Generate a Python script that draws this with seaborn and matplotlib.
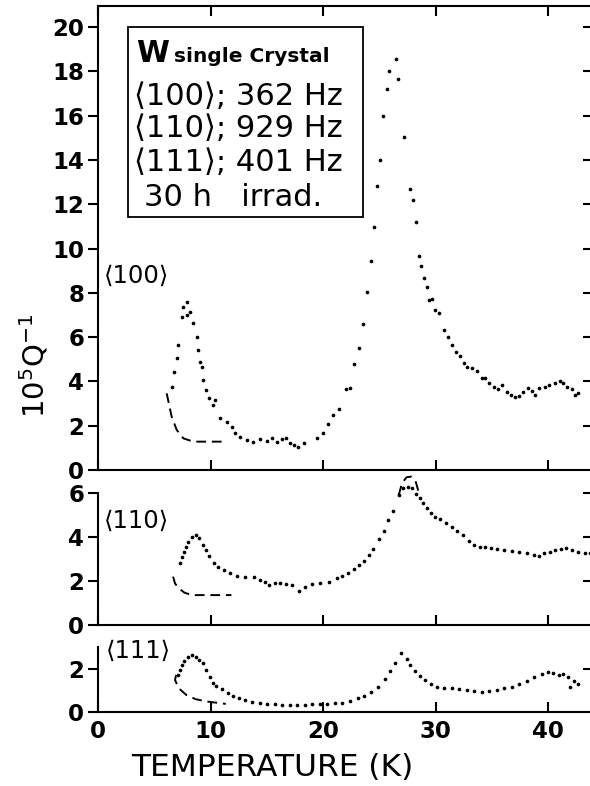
import numpy as np
import pandas as pd
import matplotlib
matplotlib.use("Agg")
import matplotlib.pyplot as plt
import seaborn as sns
from matplotlib.patches import Rectangle

# ---------------- data ----------------
t100 = [6.54, 6.75, 6.99, 7.13, 7.43, 7.52, 7.87, 7.87, 8.17, 8.46, 8.76, 8.91, 9.06, 9.2, 9.35,
        9.59, 9.89, 10.24, 10.39, 10.83, 11.43, 11.87, 12.17, 12.61, 13.2, 13.79, 14.39, 14.98,
        15.43, 15.87, 16.31, 16.7, 17.05, 17.41, 17.79, 18.29, 19.42, 19.95, 20.45, 20.9, 21.43,
        22.02, 22.38, 22.74, 23.15, 23.5, 23.86, 24.22, 24.51, 24.81, 25.04, 25.34, 25.64, 25.87,
        26.44, 26.67, 27.18, 27.71, 27.95, 28.24, 28.48, 28.69, 28.95, 29.19, 29.4, 29.69, 29.96,
        30.31, 30.73, 31.08, 31.44, 31.79, 32.15, 32.5, 32.8, 33.19, 33.63, 34.07, 34.37, 34.75,
        35.17, 35.55, 35.85, 36.3, 36.68, 37.03, 37.42, 37.77, 38.22, 38.52, 38.81, 39.19, 39.7,
        40.08, 40.59, 41.03, 41.33, 41.68, 42.07, 42.36, 42.66]
q100 = [3.76, 4.44, 5.04, 5.64, 6.92, 7.37, 7.6, 7.0, 7.15, 6.62, 6.02, 5.42, 4.89, 4.66, 4.06,
        3.61, 3.24, 2.93, 3.16, 2.33, 2.18, 1.96, 1.66, 1.5, 1.35, 1.28, 1.39, 1.32,
        1.43, 1.28, 1.39, 1.43, 1.2, 1.13, 1.05, 1.23, 1.43, 1.69, 2.08, 2.48, 2.74,
        3.64, 3.72, 4.77, 5.52, 6.58, 8.02, 9.44, 10.98, 12.82, 13.98, 16.0, 17.19, 18.01,
        18.54, 17.64, 15.02, 12.67, 12.19, 11.18, 9.66, 9.22, 8.68, 8.28, 7.67, 7.72, 7.22,
        7.07, 6.32, 6.02, 5.64, 5.34, 5.15, 4.84, 4.66, 4.62, 4.47, 4.14, 4.17, 3.91,
        3.76, 3.64, 3.84, 3.54, 3.39, 3.28, 3.34, 3.54, 3.69, 3.58, 3.39, 3.69, 3.76,
        3.84, 3.94, 4.03, 3.91, 3.76, 3.64, 3.39, 3.46]
t100_dash = [6.1, 6.54, 6.99, 7.58, 8.46, 10.98]
q100_dash = [3.46, 2.41, 1.81, 1.43, 1.28, 1.28]

t110 = [7.28, 7.44, 7.61, 7.84, 8.01, 8.35, 8.68, 9.01, 9.35, 9.62, 9.88, 10.28, 10.68, 11.19,
        11.69, 12.36, 13.02, 13.86, 14.36, 14.86, 15.2, 15.7, 16.2, 16.7, 17.2, 17.87, 18.37,
        19.04, 19.71, 20.54, 21.21, 21.71, 22.22, 22.72, 23.22, 23.65, 24.05, 24.45, 24.99,
        25.39, 25.79, 26.23, 26.73, 27.06, 27.56, 27.9, 28.23, 28.57, 28.9, 29.23, 29.57, 29.9,
        30.4, 30.9, 31.41, 31.91, 32.41, 32.91, 33.41, 33.91, 34.41, 34.92, 35.42, 36.09, 36.75,
        37.42, 38.09, 38.76, 39.16, 39.6, 40.1, 40.6, 41.1, 41.6, 42.1, 42.6, 43.27, 43.7]
q110 = [2.80, 3.11, 3.33, 3.56, 3.79, 4.02, 4.09, 3.94, 3.64, 3.41, 3.14, 2.80, 2.65, 2.50,
        2.35, 2.23, 2.2, 2.17, 2.05, 1.97, 1.82, 1.89, 1.92, 1.86, 1.82, 1.56, 1.74,
        1.86, 1.92, 1.97, 2.12, 2.23, 2.38, 2.53, 2.73, 2.92, 3.18, 3.44, 3.89,
        4.29, 4.77, 5.2, 5.91, 6.21, 6.29, 6.21, 5.98, 5.76, 5.53, 5.3, 5.08, 4.9,
        4.8, 4.62, 4.44, 4.29, 4.09, 3.83, 3.64, 3.56, 3.53, 3.48, 3.44, 3.41, 3.38,
        3.33, 3.26, 3.18, 3.14, 3.26, 3.33, 3.41, 3.44, 3.48, 3.41, 3.33, 3.29, 3.26]
t110_dash = [6.67, 6.84, 7.18, 7.68, 8.35, 11.85]
q110_dash = [2.2, 1.89, 1.67, 1.47, 1.36, 1.36]
t110_cap = [26.7, 27.0, 27.4, 27.8, 28.2, 28.5]
q110_cap = [5.9, 6.45, 6.72, 6.75, 6.55, 6.0]

t111 = [7.11, 7.28, 7.44, 7.68, 8.01, 8.35, 8.68, 9.01, 9.35, 9.62, 9.95, 10.18, 10.52, 11.02,
        11.52, 12.02, 12.52, 13.02, 13.69, 14.36, 15.03, 15.7, 16.37, 17.04, 17.7, 18.37, 19.04,
        19.71, 20.38, 21.05, 21.71, 22.38, 23.05, 23.65, 24.22, 24.89, 25.46, 25.96, 26.39, 26.9,
        27.4, 27.73, 28.13, 28.57, 29.07, 29.57, 30.07, 30.74, 31.41, 32.08, 32.74, 33.41, 34.08,
        34.75, 35.42, 36.09, 36.75, 37.42, 38.09, 38.76, 39.43, 39.93, 40.43, 40.93, 41.27, 41.77,
        42.27, 42.6, 41.94]
q111 = [1.74, 1.97, 2.21, 2.41, 2.6, 2.68, 2.6, 2.44, 2.29, 1.97, 1.66, 1.38, 1.22, 1.07,
        0.91, 0.75, 0.64, 0.56, 0.49, 0.44, 0.38, 0.38, 0.33, 0.33, 0.33, 0.33, 0.36,
        0.36, 0.38, 0.41, 0.44, 0.53, 0.64, 0.75, 0.96, 1.19, 1.53, 1.9, 2.29, 2.79,
        2.47, 2.21, 1.94, 1.69, 1.5, 1.32, 1.19, 1.14, 1.11, 1.07, 1.03, 1.0, 0.96,
        0.99, 1.03, 1.11, 1.19, 1.32, 1.46, 1.63, 1.79, 1.86, 1.85, 1.74, 1.79, 1.66,
        1.47, 1.32, 1.16]
t111_dash = [6.94, 6.84, 7.18, 7.84, 8.68, 9.68, 11.35]
q111_dash = [1.74, 1.5, 1.11, 0.8, 0.6, 0.49, 0.38]

x_ticks = [0, 10, 20, 30, 40]
y_ticks_100 = list(range(0, 21, 2))
y_ticks_110 = [0, 2, 4, 6]
y_ticks_111 = [0, 2]
panel_labels = ["\u27e8100\u27e9", "\u27e8110\u27e9", "\u27e8111\u27e9"]
inset_lines = ["\u27e8100\u27e9; 362 Hz", "\u27e8110\u27e9; 929 Hz", "\u27e8111\u27e9; 401 Hz", "30 h   irrad."]

# ---------------- figure ----------------
sns.set_style("ticks")
plt.rcParams['font.family'] = ['DejaVu Sans']
for k in ["text.color", "axes.labelcolor", "xtick.color", "ytick.color", "axes.edgecolor"]:
    plt.rcParams[k] = "black"

W, H = 590, 786
fig = plt.figure(figsize=(W / 100, H / 100), dpi=100)

def box(x0, y0, x1, y1):
    return [x0 / W, 1 - y1 / H, (x1 - x0) / W, (y1 - y0) / H]

ax1 = fig.add_axes(box(98, 6, 593, 470))
ax2 = fig.add_axes(box(98, 470, 593, 625))
ax3 = fig.add_axes(box(98, 625, 593, 712))

XMAX = 43.96
dot = dict(color="black", s=7, linewidth=0, legend=False)
dash = dict(color="black", lw=1.4, sort=False, estimator=None, linestyle=(0, (5, 3)))

sns.scatterplot(x=t100, y=q100, ax=ax1, **dot)
sns.lineplot(x=t100_dash, y=q100_dash, ax=ax1, **dash)
sns.scatterplot(x=t110, y=q110, ax=ax2, **dot)
sns.lineplot(x=t110_dash, y=q110_dash, ax=ax2, **dash)
sns.lineplot(x=t110_cap, y=q110_cap, ax=ax2, **dash)
sns.scatterplot(x=t111, y=q111, ax=ax3, **dot)
sns.lineplot(x=t111_dash, y=q111_dash, ax=ax3, **dash)

ylims = [(0, 20.95), (0, 7.05), (0, 4.08)]
yticks = [y_ticks_100, y_ticks_110, y_ticks_111]
for i, (ax, yl, yt) in enumerate(zip([ax1, ax2, ax3], ylims, yticks)):
    ax.set_xlim(0, XMAX)
    ax.set_ylim(*yl)
    ax.set_xticks(x_ticks)
    ax.set_yticks(yt)
    ax.set_xlabel("")
    ax.set_ylabel("")
    for s in ax.spines.values():
        s.set_linewidth(1.5)
        s.set_color("black")
    ax.tick_params(axis="y", direction="out", length=7, width=1.5, labelsize=16.5, pad=3,
                   left=True, right=False)
    ax.tick_params(axis="x", direction="in", length=7, width=1.5, labelsize=16.5, pad=6,
                   bottom=True, top=(i == 0), labelbottom=(i == 2))
    for lab in ax.get_xticklabels() + ax.get_yticklabels():
        lab.set_fontweight("bold")
    sec = ax.secondary_yaxis("right")
    sec.set_yticks([t for t in yt if t > 0])
    sec.tick_params(direction="in", length=7, width=1.5, labelright=False)
    sec.spines["right"].set_linewidth(1.5)
    ax.patch.set_alpha(0)

ax2.spines["top"].set_visible(False)
ax3.spines["top"].set_visible(False)
ax2.spines["left"].set_bounds(0, 6)
ax3.spines["left"].set_bounds(0, 3.05)

ax3.set_xlabel("TEMPERATURE (K)", fontsize=22.5)
ax3.xaxis.set_label_coords((272 - 98) / 495, (712 - 768) / 87)
ax3.xaxis.label.set_va("center")
ax1.set_ylabel(r"$\mathregular{10^5Q^{-1}}$", fontsize=21)
ax1.yaxis.set_label_coords((34 - 98) / 495, (470 - 366) / 464)
ax1.yaxis.label.set_va("center")

def ftext(x, y, s, **kw):
    fig.text(x / W, 1 - y / H, s, va="baseline", ha="left", **kw)

# inset box
fig.add_artist(Rectangle((128 / W, 1 - 217 / H), (363 - 128) / W, (217 - 27) / H,
                         transform=fig.transFigure, fill=False, lw=1.3, ec="black"))
ftext(136, 62, "W", fontsize=21.5, fontweight="bold")
ftext(174, 62, "single Crystal", fontsize=14.5, fontweight="bold")
ftext(134, 105, inset_lines[0], fontsize=22)
ftext(134, 137, inset_lines[1], fontsize=22)
ftext(134, 171, inset_lines[2], fontsize=22)
ftext(144, 206, inset_lines[3], fontsize=22)

# panel labels
ftext(104, 283, panel_labels[0], fontsize=17.5)
ftext(104, 528, panel_labels[1], fontsize=17.5)
ftext(106, 658, panel_labels[2], fontsize=17.5)

fig.savefig("out.png", dpi=100)
